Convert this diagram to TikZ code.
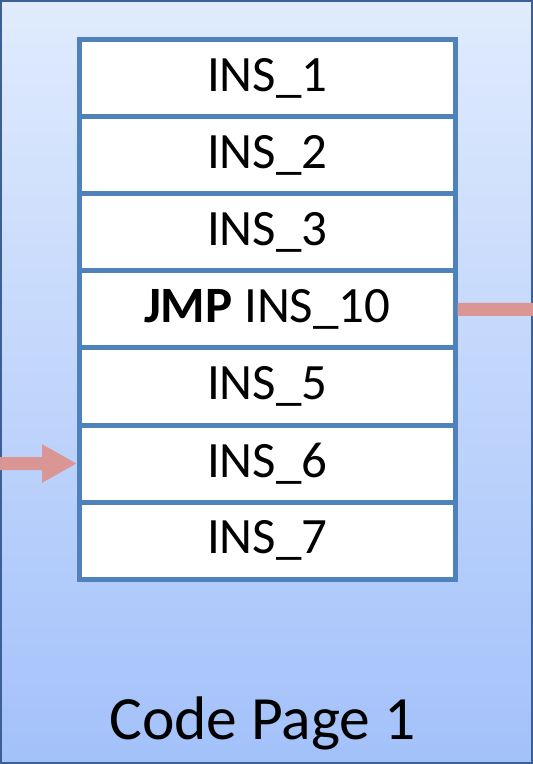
\documentclass[tikz,border=0pt]{standalone}
\usepackage{fontspec}
\setmainfont{Carlito}
\usetikzlibrary{arrows.meta, positioning}
\definecolor{pageblue}{RGB}{79, 129, 189}
\definecolor{pagetop}{RGB}{224, 235, 253}
\definecolor{pagebottom}{RGB}{163, 193, 250}
\definecolor{pageedge}{RGB}{60, 95, 150}
\definecolor{jumpred}{RGB}{217, 150, 148}

\begin{document}
\begin{tikzpicture}[
    node distance=0cm,
    insbox/.style={draw=pageblue, line width=0.1cm, fill=white, minimum width=7.51cm, minimum height=1.54cm, inner sep=0pt, outer sep=0pt, font=\fontsize{29}{34}\selectfont},
    jumparrow/.style={-{Triangle[length=0.7cm, width=0.72cm]}, line width=0.26cm, jumpred},
    jumpline/.style={line width=0.26cm, jumpred}
]
    \useasboundingbox (0,0) rectangle (10.66,-15.28);

    % Page background
    \node[draw=pageedge, line width=0.04cm, top color=pagetop, bottom color=pagebottom, minimum width=10.62cm, minimum height=15.24cm, inner sep=0pt] (page) at (5.33,-7.64) {};

    % Instructions
    \node[insbox] (ins1) at (5.345,-1.57) {INS\_1};
    \node[insbox, below=of ins1] (ins2) {INS\_2};
    \node[insbox, below=of ins2] (ins3) {INS\_3};
    \node[insbox, below=of ins3] (ins4) {\textbf{JMP} INS\_10};
    \node[insbox, below=of ins4] (ins5) {INS\_5};
    \node[insbox, below=of ins5] (ins6) {INS\_6};
    \node[insbox, below=of ins6] (ins7) {INS\_7};

    \node[anchor=base, font=\fontsize{35}{42}\selectfont] (title) at (5.25,-14.78) {Code Page 1};

    % Jumps
    \coordinate (jmpin) at (0,-9.27);
    \coordinate (jmpout) at (10.66,-6.19);
    \draw[jumparrow, shorten >=0.05cm] (jmpin) -- (ins6.west);
    \draw[jumpline, shorten <=0.05cm] (ins4.east) -- (jmpout);

\end{tikzpicture}
\end{document}
